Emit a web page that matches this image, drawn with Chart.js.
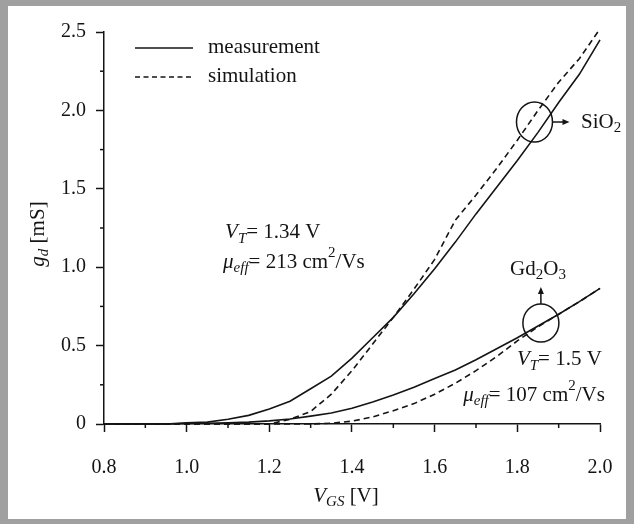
<!DOCTYPE html>
<html>
<head>
<meta charset="utf-8">
<script src="https://cdn.jsdelivr.net/npm/chart.js@4/dist/chart.umd.min.js"></script>
<style>
  body { margin: 0; background: #fff; }
  #frame {
    width: 634px; height: 524px; box-sizing: border-box;
    border-style: solid; border-color: #a0a0a0; border-width: 6px 8px 5px 8px;
    background: #fff;
  }
  canvas { display: block; }
</style>
</head>
<body>
<div id="frame"><canvas id="grafico" width="618" height="513"></canvas></div>
<script>
// gate voltage (V)
const vgs = [0.80, 0.85, 0.90, 0.95, 1.00, 1.05, 1.10, 1.15, 1.20, 1.25, 1.30, 1.35, 1.40,
             1.45, 1.50, 1.55, 1.60, 1.65, 1.70, 1.75, 1.80, 1.85, 1.90, 1.95, 2.00];

// transconductance gd (mS)
const sio2Meas = [0, 0, 0, 0, 0.008, 0.012, 0.03, 0.055, 0.095, 0.145, 0.225, 0.305, 0.42,
                  0.55, 0.68, 0.83, 0.99, 1.16, 1.34, 1.51, 1.68, 1.86, 2.05, 2.23, 2.45];
const sio2Sim  = [0, 0, 0, 0, 0, 0, 0, 0, 0, 0.03, 0.08, 0.19, 0.34,
                  0.51, 0.68, 0.86, 1.05, 1.30, 1.46, 1.63, 1.81, 2.0, 2.18, 2.33, 2.52];
const gdMeas   = [0, 0, 0, 0, 0.003, 0.005, 0.008, 0.012, 0.02, 0.032, 0.05, 0.07, 0.10,
                  0.14, 0.185, 0.235, 0.29, 0.345, 0.41, 0.48, 0.55, 0.625, 0.70, 0.78, 0.865];
const gdSim    = [0, 0, 0, 0, 0, 0, 0, 0, 0, 0, 0, 0.005, 0.018,
                  0.045, 0.085, 0.13, 0.19, 0.26, 0.34, 0.43, 0.53, 0.62, 0.70, 0.78, 0.865];

const xMin = 0.8, xMax = 2.0, xStep = 0.2;
const yMin = 0, yMax = 2.5, yStep = 0.5;
const legendLabels = ['measurement', 'simulation'];

const SERIF = '"Liberation Serif", "Times New Roman", serif';
const INK = '#141414';

function puntos(arr) {
  return vgs.map((x, i) => ({ x: x, y: arr[i] }));
}

function linea(label, arr, dashed) {
  return {
    label: label,
    data: puntos(arr),
    borderColor: INK,
    borderWidth: 1.6,
    borderDash: dashed ? [6, 4] : [],
    pointRadius: 0,
    tension: 0,
    clip: false,
  };
}

let datos = {
  datasets: [
    linea('SiO2 measurement', sio2Meas, false),
    linea('SiO2 simulation', sio2Sim, true),
    linea('Gd2O3 measurement', gdMeas, false),
    linea('Gd2O3 simulation', gdSim, true),
  ],
};

// rich text with italic / sub / superscript parts
function fuente(p) {
  const size = (p.sub || p.sup) ? 15 : 21;
  return (p.it ? 'italic ' : '') + size + 'px ' + SERIF;
}
function texto(ctx, parts, x, y, align) {
  let w = 0;
  parts.forEach(p => { ctx.font = fuente(p); p.w = ctx.measureText(p.t).width; w += p.w; });
  let cx = align === 'center' ? x - w / 2 : (align === 'right' ? x - w : x);
  ctx.textAlign = 'left';
  ctx.textBaseline = 'middle';
  parts.forEach(p => {
    ctx.font = fuente(p);
    ctx.fillText(p.t, cx, y + (p.sub ? 6 : p.sup ? -9 : 0));
    cx += p.w;
  });
}

// annotation anchors, in axis units
const notas = [
  { x: 1.093, y: 1.22, align: 'left', parts: [{ t: 'V', it: true }, { t: 'T', it: true, sub: true }, { t: '= 1.34 V' }] },
  { x: 1.088, y: 1.03, align: 'left', parts: [{ t: 'μ', it: true }, { t: 'eff', it: true, sub: true }, { t: '= 213 cm' }, { t: '2', sup: true }, { t: '/Vs' }] },
  { x: 1.799, y: 0.41, align: 'left', parts: [{ t: 'V', it: true }, { t: 'T', it: true, sub: true }, { t: '= 1.5 V' }] },
  { x: 1.669, y: 0.185, align: 'left', parts: [{ t: 'μ', it: true }, { t: 'eff', it: true, sub: true }, { t: '= 107 cm' }, { t: '2', sup: true }, { t: '/Vs' }] },
  { x: 1.954, y: 1.926, align: 'left', parts: [{ t: 'SiO' }, { t: '2', sub: true }] },
  { x: 1.850, y: 0.985, align: 'center', parts: [{ t: 'Gd' }, { t: '2', sub: true }, { t: 'O' }, { t: '3', sub: true }] },
];
const circulos = [
  { x: 1.8415, y: 1.926, rx: 18, ry: 20, flecha: 'right' },
  { x: 1.857, y: 0.644, rx: 18, ry: 19, flecha: 'up' },
];

const extras = {
  id: 'extras',
  afterDraw(chart) {
    const { ctx, chartArea: a } = chart;
    const sx = chart.scales.x, sy = chart.scales.y;
    ctx.save();
    ctx.strokeStyle = INK;
    ctx.fillStyle = INK;
    ctx.lineWidth = 1.5;

    // minor ticks
    const xt = sx.ticks.map(t => t.value);
    for (let i = 0; i < xt.length - 1; i++) {
      const px = sx.getPixelForValue((xt[i] + xt[i + 1]) / 2);
      ctx.beginPath(); ctx.moveTo(px, a.bottom); ctx.lineTo(px, a.bottom + 4); ctx.stroke();
    }
    const yt = sy.ticks.map(t => t.value);
    for (let i = 0; i < yt.length - 1; i++) {
      const py = sy.getPixelForValue((yt[i] + yt[i + 1]) / 2);
      ctx.beginPath(); ctx.moveTo(a.left, py); ctx.lineTo(a.left - 4, py); ctx.stroke();
    }

    // legend
    const lx = a.left + 31;
    [[42, []], [71, [5, 3.5]]].forEach((row, i) => {
      ctx.setLineDash(row[1]);
      ctx.beginPath(); ctx.moveTo(lx, row[0]); ctx.lineTo(lx + 58, row[0]); ctx.stroke();
      ctx.setLineDash([]);
      texto(ctx, [{ t: legendLabels[i] }], lx + 73, row[0] - 1, 'left');
    });

    // circles + arrows
    circulos.forEach(c => {
      const cx = sx.getPixelForValue(c.x), cy = sy.getPixelForValue(c.y);
      ctx.beginPath(); ctx.ellipse(cx, cy, c.rx, c.ry, 0, 0, Math.PI * 2); ctx.stroke();
      ctx.beginPath();
      if (c.flecha === 'right') {
        const x0 = cx + c.rx, x1 = x0 + 17;
        ctx.moveTo(x0, cy); ctx.lineTo(x1 - 6, cy); ctx.stroke();
        ctx.beginPath(); ctx.moveTo(x1, cy); ctx.lineTo(x1 - 7, cy - 3); ctx.lineTo(x1 - 7, cy + 3); ctx.closePath(); ctx.fill();
      } else {
        const y0 = cy - c.ry, y1 = y0 - 17;
        ctx.moveTo(cx, y0); ctx.lineTo(cx, y1 + 6); ctx.stroke();
        ctx.beginPath(); ctx.moveTo(cx, y1); ctx.lineTo(cx - 3, y1 + 7); ctx.lineTo(cx + 3, y1 + 7); ctx.closePath(); ctx.fill();
      }
    });

    // annotations
    notas.forEach(n => texto(ctx, n.parts, sx.getPixelForValue(n.x), sy.getPixelForValue(n.y), n.align));

    // axis titles
    texto(ctx, [{ t: 'V', it: true }, { t: 'GS', it: true, sub: true }, { t: ' [V]' }], (a.left + a.right) / 2 - 6, 490, 'center');
    ctx.translate(30, (a.top + a.bottom) / 2 + 6);
    ctx.rotate(-Math.PI / 2);
    texto(ctx, [{ t: 'g', it: true }, { t: 'd', it: true, sub: true }, { t: ' [mS]' }], 0, 0, 'center');
    ctx.restore();
  },
};

let opciones = {
  responsive: false,
  animation: false,
  devicePixelRatio: 1,
  layout: { padding: { left: 0, top: 26, right: 26, bottom: 0 } },
  plugins: { legend: { display: false }, tooltip: { enabled: false } },
  scales: {
    x: {
      type: 'linear',
      min: xMin, max: xMax,
      afterFit: s => { s.height = 95; },
      ticks: {
        stepSize: xStep,
        callback: v => v.toFixed(1),
        font: { family: SERIF, size: 20, lineHeight: 3.3 },
        color: INK,
        padding: 3,
        maxRotation: 0,
      },
      grid: { drawOnChartArea: false, drawTicks: true, tickLength: 8, tickWidth: 1.5, tickColor: INK },
      border: { display: true, color: INK, width: 1.5 },
    },
    y: {
      min: yMin, max: yMax,
      afterFit: s => { s.width = 96; },
      ticks: {
        stepSize: yStep,
        callback: v => (v === 0 ? '0' : v.toFixed(1)),
        font: { family: SERIF, size: 20 },
        color: INK,
        padding: 10,
      },
      grid: { drawOnChartArea: false, drawTicks: true, tickLength: 8, tickWidth: 1.5, tickColor: INK },
      border: { display: true, color: INK, width: 1.5 },
    },
  },
};

let ctx = document.getElementById('grafico').getContext('2d');
let grafico = new Chart(ctx, {
  type: 'line',
  data: datos,
  options: opciones,
  plugins: [extras],
});
</script>
</body>
</html>
